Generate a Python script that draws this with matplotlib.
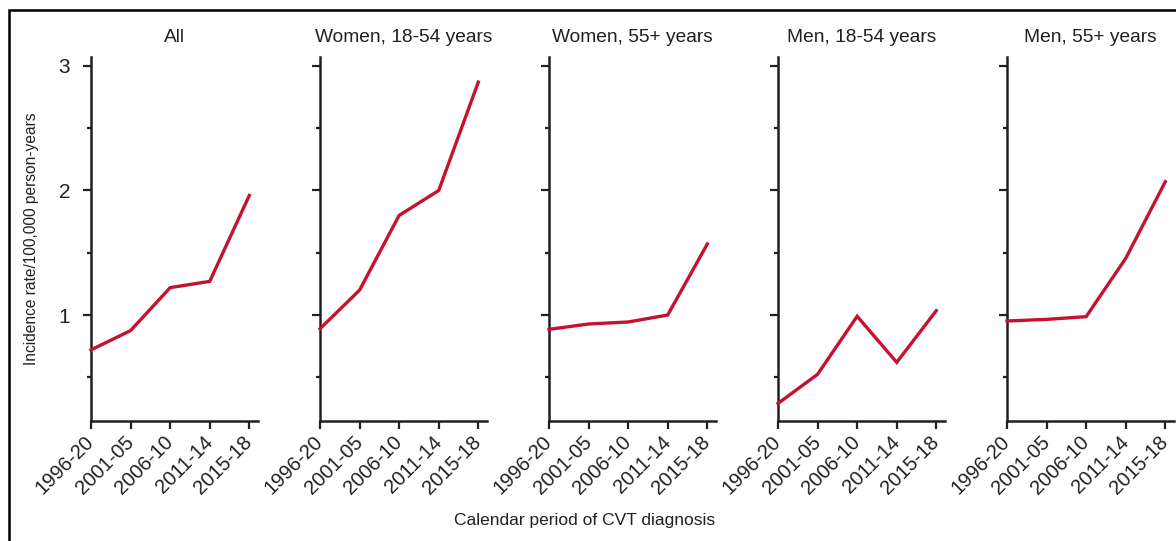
"""Five-panel CVT incidence chart, one line per subgroup."""
import matplotlib

matplotlib.use("Agg")
import matplotlib.pyplot as plt
from matplotlib.patches import Rectangle
from matplotlib.ticker import MultipleLocator

plt.rcParams["font.family"] = ["Liberation Sans", "DejaVu Sans"]

periods = ["1996-20", "2001-05", "2006-10", "2011-14", "2015-18"]
panel_titles = ["All", "Women, 18-54 years", "Women, 55+ years",
                "Men, 18-54 years", "Men, 55+ years"]
rate_all = [0.72, 0.875, 1.22, 1.27, 1.96]
rate_women_young = [0.89, 1.20, 1.80, 2.00, 2.87]
rate_women_old = [0.885, 0.928, 0.944, 1.00, 1.57]
rate_men_young = [0.29, 0.524, 0.99, 0.62, 1.035]
rate_men_old = [0.952, 0.965, 0.987, 1.455, 2.07]
series = [rate_all, rate_women_young, rate_women_old,
          rate_men_young, rate_men_old]

RED = "#c41230"
INK = "#231f20"
W, H = 1176, 541

fig = plt.figure(figsize=(W / 100, H / 100), dpi=100)

# outer frame (right/bottom edges fall outside the crop)
fig.add_artist(Rectangle((9 / W, -0.1), 1.2, (H - 10) / H + 0.1,
                         transform=fig.transFigure, fill=False,
                         edgecolor="black", linewidth=1.8))

x = list(range(len(periods)))
lefts = [91, 320, 549, 778, 1007]
for i, (left, title, vals) in enumerate(zip(lefts, panel_titles, series)):
    ax = fig.add_axes([left / W, (H - 421) / H, 167 / W, 364 / H])
    ax.plot(x, vals, color=RED, linewidth=2.4, solid_joinstyle="miter",
            clip_on=False, zorder=3)
    ax.set_xlim(0, 4.22)
    ax.set_ylim(0.149, 3.072)
    ax.set_xticks(x)
    ax.set_xticklabels(periods, rotation=45, ha="right", va="center",
                       rotation_mode="anchor", fontsize=14.5, color=INK)
    ax.yaxis.set_major_locator(MultipleLocator(1))
    ax.yaxis.set_minor_locator(MultipleLocator(0.5))
    ax.tick_params(axis="both", which="major", direction="out", length=6,
                   width=1.6, color=INK, pad=7)
    ax.tick_params(axis="y", which="minor", direction="out", length=3,
                   width=1.6, color=INK)
    ax.tick_params(axis="y", labelsize=15, labelcolor=INK, pad=9)
    if i > 0:
        ax.tick_params(axis="y", labelleft=False)
    for side in ("top", "right"):
        ax.spines[side].set_visible(False)
    for side in ("left", "bottom"):
        ax.spines[side].set_color(INK)
        ax.spines[side].set_linewidth(1.8)
    ax.set_title(title, fontsize=13.8, color=INK, pad=11)
    if i == 0:
        ax.set_ylabel("Incidence rate/100,000 person-years", fontsize=11.2,
                      color=INK, labelpad=14)

fig.text(585 / W, 1 - 521 / H, "Calendar period of CVT diagnosis",
         ha="center", va="center", fontsize=12.5, color=INK)

fig.savefig("out.png", dpi=100, facecolor="white")
